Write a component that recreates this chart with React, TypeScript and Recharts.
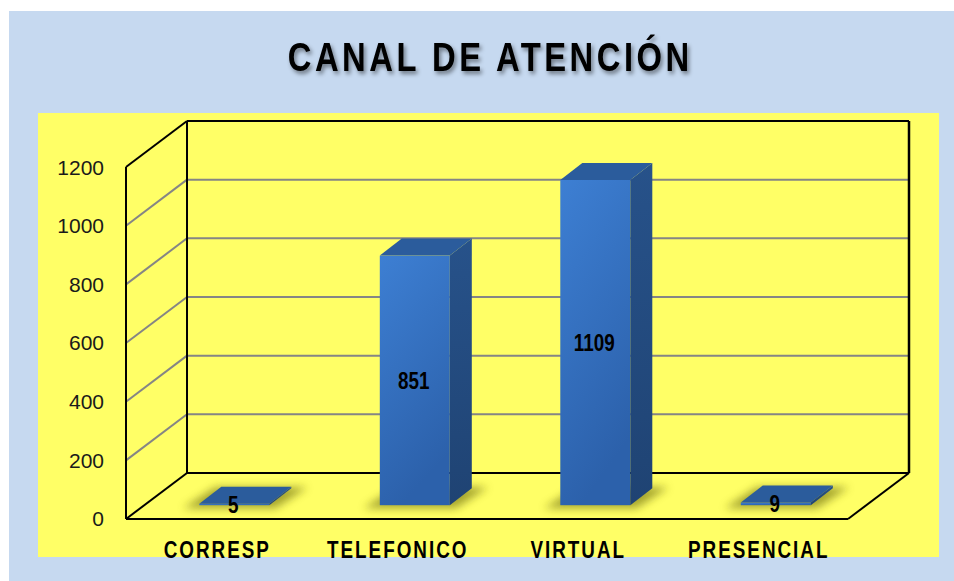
import React from 'react';
import { BarChart, Bar, XAxis, YAxis, ReferenceLine, LabelList } from 'recharts';

const categories = ['CORRESP', 'TELEFONICO', 'VIRTUAL', 'PRESENCIAL'];
const values = [5, 851, 1109, 9];
const yTicks = [0, 200, 400, 600, 800, 1000, 1200];
const gridValues = [200, 400, 600, 800, 1000];
const xTicks = [0.5, 1.5, 2.5, 3.5];

const Y_MAX = 1200;
const DEPTH_X = 0.338; // 3D depth projection in category units
const DEPTH_Y = 157; // 3D depth projection in value units
const FRONT = 0.3; // depth fraction where bar front faces sit

const data = categories.map((name, i) => ({
  name,
  x: i + 0.5 + FRONT * DEPTH_X,
  value: values[i],
  range: [FRONT * DEPTH_Y, FRONT * DEPTH_Y + values[i]],
}));

const FONT = "'Liberation Sans', Arial, sans-serif";
const NARROW_SCALE = 0.82;

const NarrowText = (props: any) => {
  const { x, y, size, spacing = 0, children, ...rest } = props;
  return (
    <text
      transform={`translate(${x},${y}) scale(${NARROW_SCALE},1)`}
      x={spacing / NARROW_SCALE / 2}
      y={0}
      textAnchor="middle"
      fontFamily={FONT}
      fontWeight="bold"
      fontSize={size}
      letterSpacing={spacing / NARROW_SCALE}
      fill="#000"
      {...rest}
    >
      {children}
    </text>
  );
};

const Bar3D = (props: any) => {
  const { x, y, width, height, index } = props;
  const top = Math.min(y, y + height);
  const h = Math.abs(height);
  const bottom = top + h;
  const dx = 22;
  const dy = 17;
  const id = `bar3d${index}`;
  return (
    <g>
      <defs>
        <linearGradient id={id + 'f'} x1="0" y1="0" x2="0.3" y2="1">
          <stop offset="0%" stopColor="#3D7FD3" />
          <stop offset="100%" stopColor="#2C61AB" />
        </linearGradient>
        <linearGradient id={id + 's'} x1="0" y1="0" x2="0" y2="1">
          <stop offset="0%" stopColor="#27528A" />
          <stop offset="100%" stopColor="#1F4373" />
        </linearGradient>
        <filter id={id + 'b'} x="-50%" y="-200%" width="200%" height="500%">
          <feGaussianBlur stdDeviation="4" />
        </filter>
      </defs>
      <polygon
        points={`${x - 16},${bottom + 3} ${x + width + 6},${bottom + 3} ${x + width + dx + 16},${bottom - dy - 1} ${x + dx - 6},${bottom - dy - 1}`}
        fill="#86861A"
        opacity={0.75}
        filter={`url(#${id}b)`}
      />
      <rect x={x} y={top} width={width} height={h} fill={`url(#${id}f)`} />
      <polygon
        points={`${x + width},${top} ${x + width + dx},${top - dy} ${x + width + dx},${bottom - dy} ${x + width},${bottom}`}
        fill={`url(#${id}s)`}
      />
      <polygon
        points={`${x},${top} ${x + width},${top} ${x + width + dx},${top - dy} ${x + dx},${top - dy}`}
        fill="#2B5C9C"
      />
    </g>
  );
};

const XTick = (props: any) => {
  const { x, y, payload } = props;
  const label = categories[Math.floor(payload.value)];
  return (
    <NarrowText x={x} y={y + 39} size={23} spacing={2}>
      {label}
    </NarrowText>
  );
};

const ValueLabel = (props: any) => {
  const { x, y, width, height, value } = props;
  return (
    <NarrowText x={x + width / 2 - 1} y={y + height / 2 + 8.5} size={23}>
      {value}
    </NarrowText>
  );
};

const gray = '#858585';
const black = '#000';

export default function App() {
  const seg = (a: [number, number], b: [number, number], color: string, w: number, key: string) => (
    <ReferenceLine
      key={key}
      segment={[{ x: a[0], y: a[1] }, { x: b[0], y: b[1] }]}
      stroke={color}
      strokeWidth={w}
      ifOverflow="visible"
      zIndex={0}
    />
  );
  const n = categories.length;
  const lines: any[] = [];
  gridValues.forEach((v) => {
    lines.push(seg([DEPTH_X, v + DEPTH_Y], [n + DEPTH_X, v + DEPTH_Y], gray, 2, `gb${v}`));
    lines.push(seg([0, v], [DEPTH_X, v + DEPTH_Y], gray, 2, `gl${v}`));
  });
  // back wall frame
  lines.push(seg([DEPTH_X, Y_MAX + DEPTH_Y], [n + DEPTH_X, Y_MAX + DEPTH_Y], black, 2, 'bt'));
  lines.push(seg([DEPTH_X, DEPTH_Y], [n + DEPTH_X, DEPTH_Y], black, 2, 'bb'));
  lines.push(seg([DEPTH_X, DEPTH_Y], [DEPTH_X, Y_MAX + DEPTH_Y], black, 2, 'bl'));
  lines.push(seg([n + DEPTH_X, DEPTH_Y], [n + DEPTH_X, Y_MAX + DEPTH_Y], black, 2.5, 'br'));
  // left wall
  lines.push(seg([0, 0], [0, Y_MAX], black, 2, 'la'));
  lines.push(seg([0, Y_MAX], [DEPTH_X, Y_MAX + DEPTH_Y], black, 2, 'lt'));
  lines.push(seg([0, 0], [DEPTH_X, DEPTH_Y], black, 2, 'lb'));
  // floor
  lines.push(seg([0, 0], [n, 0], black, 2, 'ff'));
  lines.push(seg([n, 0], [n + DEPTH_X, DEPTH_Y], black, 2, 'fr'));

  return (
    <div style={{ position: 'absolute', left: 0, top: 0, width: 954, height: 581, background: '#fff' }}>
      <div style={{ position: 'absolute', left: 9, top: 11, width: 945, height: 570, background: '#C6D9F0' }} />
      <div style={{ position: 'absolute', left: 38, top: 113, width: 901, height: 444, background: '#FFFF66' }} />
      <svg style={{ position: 'absolute', left: 0, top: 0 }} width={954} height={110}>
        <defs>
          <filter id="tshadow" x="-10%" y="-30%" width="120%" height="160%">
            <feDropShadow dx="2" dy="3" stdDeviation="2" floodColor="#000" floodOpacity="0.45" />
          </filter>
        </defs>
        <g filter="url(#tshadow)">
          <NarrowText x={488.5} y={71} size={40} spacing={3.5}>
            CANAL DE ATENCIÓN
          </NarrowText>
        </g>
      </svg>
      <div style={{ position: 'absolute', left: 0, top: 0 }}>
        <BarChart
          width={954}
          height={581}
          data={data}
          margin={{ top: 121, right: 45, bottom: 22, left: 66 }}
        >
          <XAxis
            type="number"
            dataKey="x"
            domain={[0, n + DEPTH_X]}
            ticks={xTicks}
            tick={<XTick />}
            tickSize={0}
            tickMargin={0}
            axisLine={false}
            tickLine={false}
            height={40}
            allowDataOverflow
          />
          <YAxis
            type="number"
            domain={[0, Y_MAX + DEPTH_Y]}
            ticks={yTicks}
            width={60}
            tickSize={0}
            tickMargin={22}
            axisLine={false}
            tickLine={false}
            tick={{ fill: '#1A1A1A', fontSize: 21, fontFamily: FONT }}
            allowDataOverflow
          />
          {lines}
          <Bar dataKey="range" barSize={70} shape={<Bar3D />} isAnimationActive={false}>
            <LabelList dataKey="value" content={<ValueLabel />} />
          </Bar>
        </BarChart>
      </div>
    </div>
  );
}
